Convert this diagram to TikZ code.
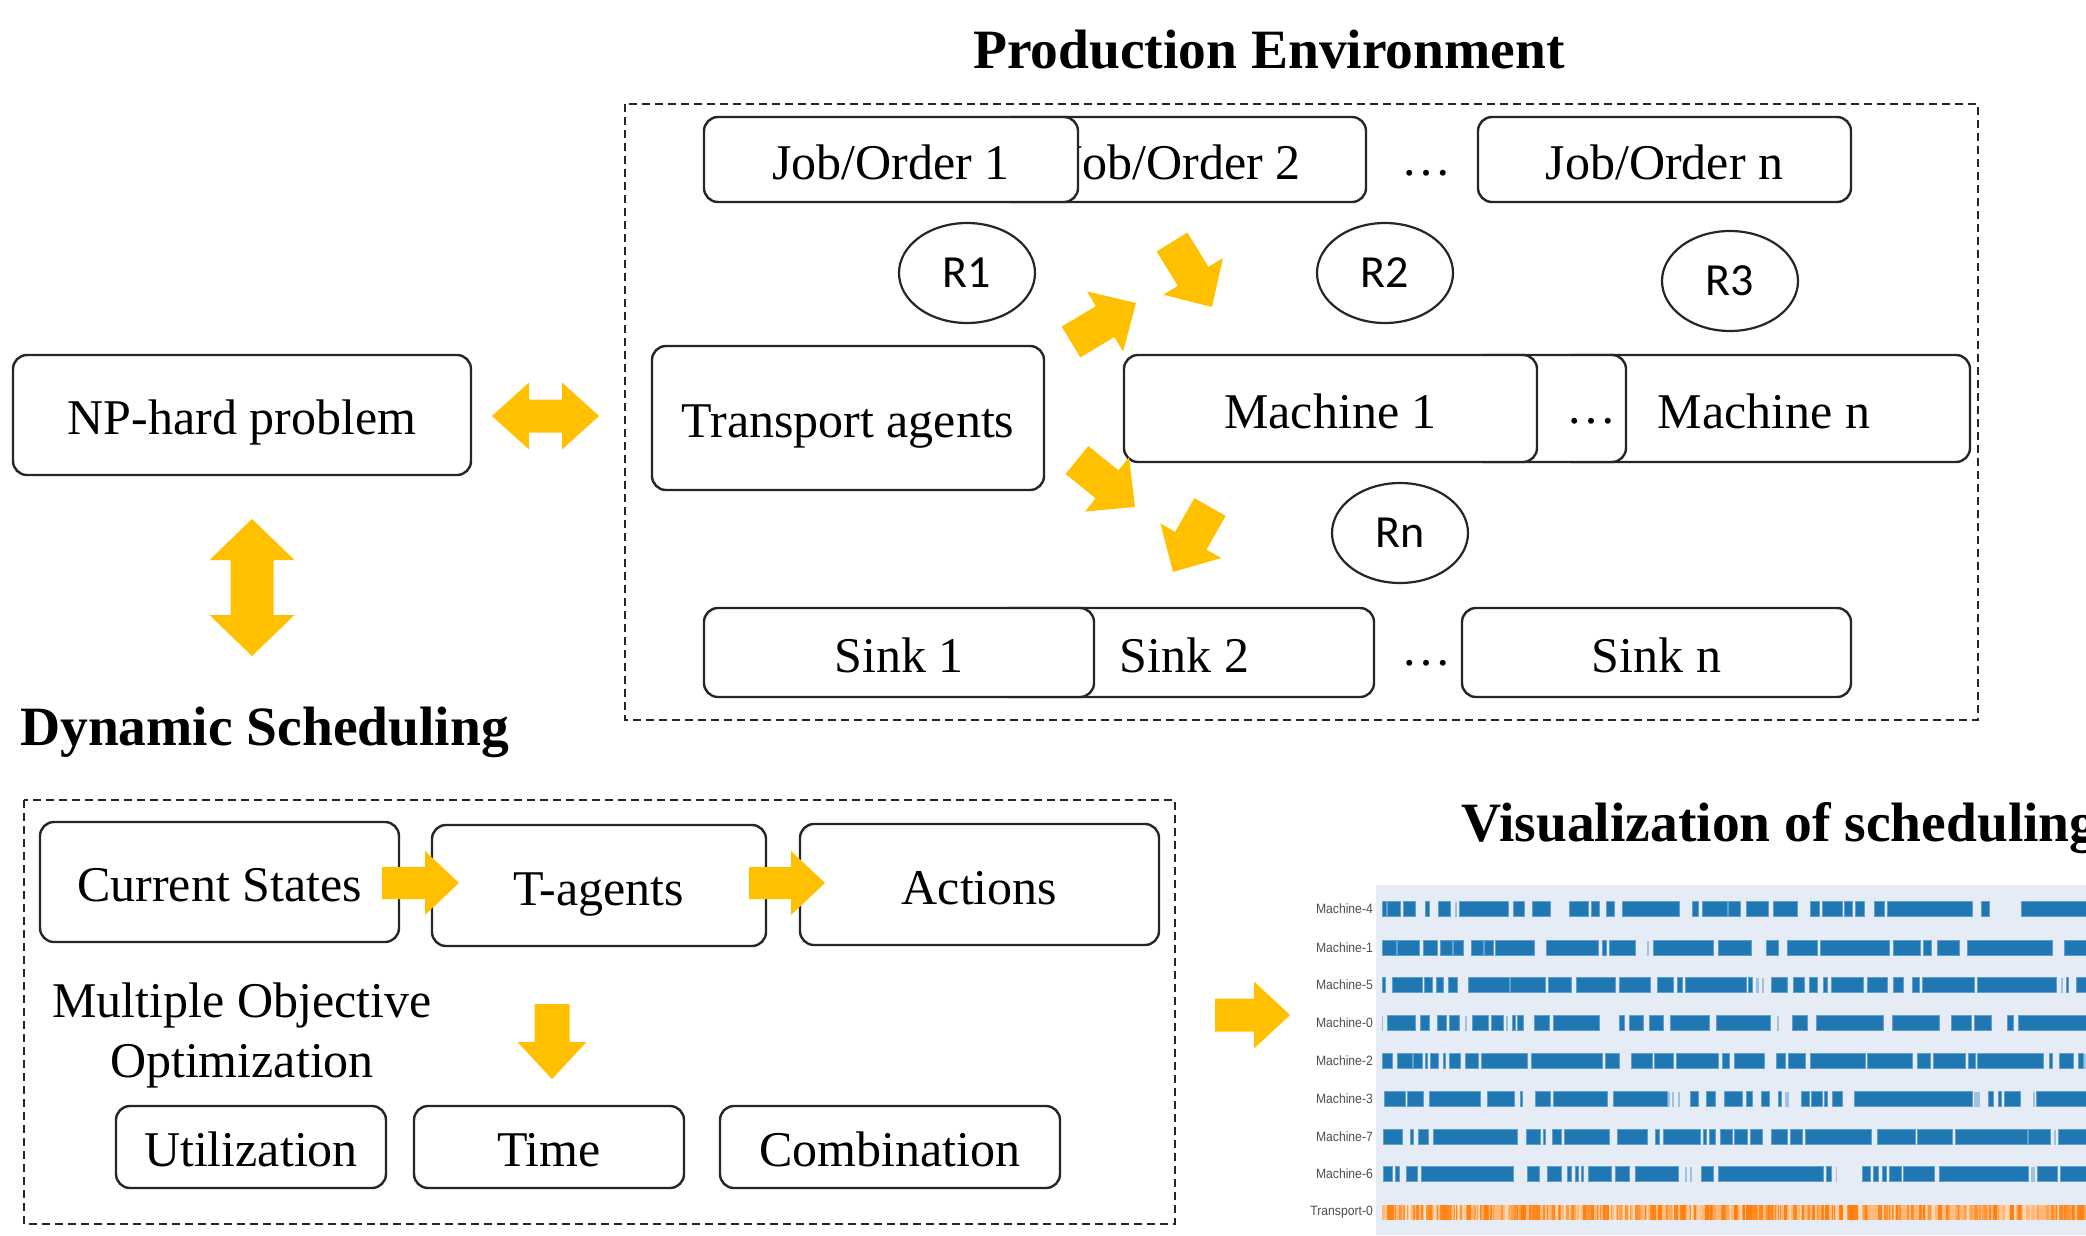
\documentclass[tikz,border=0pt]{standalone}
\usepackage{fontspec}
\setmainfont{Liberation Serif}
\newfontfamily\rfont{Carlito}
\newfontfamily\axisfont[FakeStretch=0.9]{Liberation Sans}
\usetikzlibrary{shapes.geometric,calc}

\definecolor{gold}{HTML}{FFC000}
\definecolor{edge}{HTML}{262626}
\definecolor{plotbg}{HTML}{E5ECF6}
\definecolor{barblue}{HTML}{1F77B4}
\definecolor{barorange}{HTML}{FF7F0E}
\definecolor{axisgray}{HTML}{4D4D4D}

\tikzset{
  box/.style={draw=edge, line width=2.4pt, rounded corners=14pt, fill=white,
    inner sep=0pt, text height=39pt, text depth=0pt, font=\fontsize{50}{60}\selectfont},
  frame/.style={draw=edge, line width=2.4pt, dash pattern=on 8pt off 5pt},
  rnode/.style={draw=edge, line width=2.2pt, ellipse, minimum width=136pt,
    minimum height=100pt, inner sep=0pt, font=\rfont\fontsize{46}{50}\selectfont},
  heading/.style={font=\bfseries\fontsize{55.5}{62}\selectfont, inner sep=0pt},
  plain/.style={font=\fontsize{50}{60}\selectfont, inner sep=0pt},
  axislabel/.style={font=\axisfont\fontsize{13.5}{14}\selectfont, text=axisgray,
    anchor=east, inner sep=0pt},
  bar/.style={fill=barblue, draw=barblue!70!white, line width=0.6pt},
}

% block arrow: tail, tip, shaft half width, head half width, head length
\newcommand\blockarrow[5]{%
  \coordinate (hb) at ($(#2)!#5!(#1)$);
  \fill[gold] ($(#1)!#3!90:(#2)$) -- ($(hb)!#3!-90:(#1)$) -- ($(hb)!#4!-90:(#1)$)
    -- (#2) -- ($(hb)!#4!90:(#1)$) -- ($(hb)!#3!90:(#1)$) -- ($(#1)!#3!-90:(#2)$) -- cycle;
}
% double-headed block arrow: end, end, shaft half width, head half width, head length
\newcommand\dblarrow[5]{%
  \coordinate (ha) at ($(#1)!#5!(#2)$);
  \coordinate (hb) at ($(#2)!#5!(#1)$);
  \fill[gold] (#1) -- ($(ha)!#4!90:(#2)$) -- ($(ha)!#3!90:(#2)$) -- ($(hb)!#3!-90:(#1)$)
    -- ($(hb)!#4!-90:(#1)$) -- (#2) -- ($(hb)!#4!90:(#1)$) -- ($(hb)!#3!90:(#1)$)
    -- ($(ha)!#3!-90:(#2)$) -- ($(ha)!#4!-90:(#2)$) -- cycle;
}
% one row of the Gantt chart: y, solid segments, faint segments
\newcommand\ganttrow[3]{%
  \foreach \a/\b in {#2} \fill[bar] (\a,#1-7.5) rectangle (\b,#1+7.5);
  \foreach \a/\b in {#3} \fill[barblue, opacity=0.35] (\a,#1-7.5) rectangle (\b,#1+7.5);
}

\begin{document}
\begin{tikzpicture}[x=1pt, y=-1pt]
\useasboundingbox (0,0) rectangle (2086,1235);
\clip (0,0) rectangle (2086,1235);

% ---------------- production environment ----------------
\node[heading, anchor=base] (prodtitle) at (1269,68) {Production Environment};
\draw[frame] (625,104) rectangle (1978,720);

\node[box, minimum width=368pt, minimum height=85pt] (job2) at (1182,159.5) {Job/Order 2};
\node[box, minimum width=374pt, minimum height=85pt] (job1) at (891,159.5) {Job/Order 1};
\node[plain] (jdots) at (1426,173) {…};
\node[box, minimum width=373pt, minimum height=85pt] (jobn) at (1664.5,159.5) {Job/Order n};

\node[rnode] (r1) at (967,273) {R1};
\node[rnode] (r2) at (1385,273) {R2};
\node[rnode] (r3) at (1730,281) {R3};
\node[rnode] (rn) at (1400,533) {Rn};

\node[box, minimum width=392pt, minimum height=144pt] (transport) at (848,418) {Transport agents};

\node[box, minimum width=412pt, minimum height=107pt] (machn) at (1764,408.5) {Machine n};
\node[box, minimum width=156pt, minimum height=107pt] (mdotsbox) at (1548,408.5) {};
\node[plain] (mdots) at (1591,421) {…};
\node[box, minimum width=413pt, minimum height=107pt] (mach1) at (1330.5,408.5) {Machine 1};

\node[box, minimum width=379pt, minimum height=89pt] (sink2) at (1184.5,652.5) {Sink 2};
\node[box, minimum width=390pt, minimum height=89pt] (sink1) at (899,652.5) {Sink 1};
\node[plain] (sdots) at (1426,663) {…};
\node[box, minimum width=389pt, minimum height=89pt] (sinkn) at (1656.5,652.5) {Sink n};

% transport flows
\coordinate (ta1) at (1071,342); \coordinate (tb1) at (1136,303);
\coordinate (ta2) at (1172,242); \coordinate (tb2) at (1212,307);
\coordinate (ta3) at (1077,460); \coordinate (tb3) at (1135,507);
\coordinate (ta4) at (1210,507); \coordinate (tb4) at (1173,572);
\blockarrow{ta1}{tb1}{18pt}{35pt}{36pt}
\blockarrow{ta2}{tb2}{18pt}{35pt}{36pt}
\blockarrow{ta3}{tb3}{18pt}{35pt}{36pt}
\blockarrow{ta4}{tb4}{18pt}{35pt}{36pt}

% ---------------- problem ----------------
\node[box, minimum width=458pt, minimum height=120pt] (nphard) at (242,415) {NP-hard problem};
\coordinate (hx1) at (492,416); \coordinate (hx2) at (599,416);
\dblarrow{hx1}{hx2}{16.5pt}{33.5pt}{37pt}
\coordinate (vx1) at (252,519); \coordinate (vx2) at (252,656);
\dblarrow{vx1}{vx2}{21.5pt}{42.5pt}{41pt}

% ---------------- dynamic scheduling ----------------
\node[heading, anchor=base west] (dyntitle) at (20,745) {Dynamic Scheduling};
\draw[frame] (24,800) rectangle (1175,1224);

\node[box, minimum width=359pt, minimum height=120pt] (states) at (219.5,882) {Current States};
\node[box, minimum width=334pt, minimum height=121pt] (tagents) at (599,885.5) {T-agents};
\node[box, minimum width=359pt, minimum height=121pt] (actions) at (979.5,884.5) {Actions};

\coordinate (sa1) at (382,883); \coordinate (sb1) at (459,883);
\coordinate (sa2) at (749,883); \coordinate (sb2) at (825,883);
\blockarrow{sa1}{sb1}{16pt}{32pt}{34pt}
\blockarrow{sa2}{sb2}{16pt}{32pt}{34pt}

\node[plain, align=center] (moo) at (242,1035) {Multiple Objective\\Optimization};
\coordinate (da) at (552,1004); \coordinate (db) at (552,1079);
\blockarrow{da}{db}{17.5pt}{34.5pt}{37pt}

\node[box, minimum width=270pt, minimum height=82pt] (util) at (251,1147) {Utilization};
\node[box, minimum width=270pt, minimum height=82pt] (time) at (549,1147) {Time};
\node[box, minimum width=340pt, minimum height=82pt] (comb) at (890,1147) {Combination};

\coordinate (va) at (1215,1015); \coordinate (vb) at (1290,1015);
\blockarrow{va}{vb}{16.5pt}{33.5pt}{36pt}

% ---------------- visualization ----------------
\node[heading, anchor=base west] (vistitle) at (1461,841) {Visualization of scheduling};
\fill[plotbg] (1376,885) rectangle (2086,1235);

\node[axislabel] (l4) at (1373,909) {Machine-4};
\node[axislabel] (l1) at (1373,948) {Machine-1};
\node[axislabel] (l5) at (1373,985) {Machine-5};
\node[axislabel] (l0) at (1373,1023) {Machine-0};
\node[axislabel] (l2) at (1373,1061) {Machine-2};
\node[axislabel] (l3) at (1373,1099) {Machine-3};
\node[axislabel] (l7) at (1373,1137) {Machine-7};
\node[axislabel] (l6) at (1373,1174) {Machine-6};
\node[axislabel] (lt) at (1373,1212) {Transport-0};

\ganttrow{909}{1382/1386,1387/1400,1403/1415,1425/1429,1438/1450,1459/1508,1513/1524,1532/1550,1569/1588,1591/1599,1606/1614,1622/1679,1692/1698,1702/1727,1728/1740,1746/1768,1773/1797,1810/1819,1822/1842,1844/1852,1855/1864,1874/1884,1887/1972,1981/1989,2021/2090}{1455/1457}
\ganttrow{948}{1382/1396,1397/1419,1423/1437,1440/1452,1453/1463,1471/1483,1484/1493,1495/1534,1546/1598,1602/1606,1609/1635,1653/1713,1718/1751,1766/1778,1787/1817,1820/1889,1893/1920,1923/1931,1937/1959,1967/2052,2064/2090}{1647/1649}
\ganttrow{985}{1382/1385,1392/1422,1424/1432,1436/1443,1448/1457,1468/1509,1510/1545,1548/1571,1576/1615,1619/1650,1657/1673,1677/1682,1685/1746,1748/1752,1771/1787,1793/1804,1809/1817,1823/1827,1831/1863,1867/1887,1893/1903,1912/1919,1922/1974,1977/2056,2066/2068,2076/2090}{1756/1759,1762/1764,2061/2063}
\ganttrow{1023}{1387/1415,1420/1429,1437/1446,1449/1459,1472/1488,1491/1503,1512/1515,1517/1523,1534/1549,1553/1599,1619/1624,1629/1643,1649/1663,1670/1709,1716/1770,1792/1807,1816/1883,1892/1939,1951/1971,1974/1991,2007/2013,2018/2090}{1382/1383,1465/1467,1506/1508,1777/1779}
\ganttrow{1061}{1382/1392,1397/1412,1413/1422,1425/1427,1430/1438,1443/1445,1449/1460,1465/1478,1481/1527,1531/1602,1605/1619,1631/1652,1654/1673,1676/1718,1722/1729,1734/1764,1776/1785,1788/1805,1810/1865,1867/1912,1917/1930,1933/1965,1968/1975,1977/2043,2049/2052,2059/2073,2078/2083}{2084/2086}
\ganttrow{1099}{1384/1405,1407/1423,1429/1480,1487/1514,1520/1522,1535/1550,1553/1607,1613/1667,1690/1698,1706/1715,1724/1742,1746/1752,1761/1769,1778/1781,1801/1809,1811/1822,1824/1827,1832/1842,1854/1972,1988/1993,1998/2001,2004/2020,2036/2090}{1668/1670,1672/1674,1678/1680,1785/1789,1974/1980,2033/2035}
\ganttrow{1137}{1383/1402,1410/1413,1418/1428,1433/1517,1526/1540,1543/1545,1552/1561,1564/1609,1617/1647,1655/1659,1663/1700,1703/1706,1709/1715,1720/1732,1734/1747,1750/1762,1771/1787,1790/1802,1805/1871,1877/1915,1917/1952,1955/2027,2028/2050,2058/2090}{2054/2056}
\ganttrow{1174}{1383/1392,1395/1399,1406/1417,1421/1513,1527/1539,1547/1561,1567/1571,1575/1578,1581/1583,1588/1611,1615/1629,1635/1678,1701/1713,1718/1823,1826/1831,1862/1870,1873/1878,1882/1886,1889/1901,1903/1934,1939/2028,2037/2057,2060/2090}{1685/1687,1690/1692,1836/1837,2031/2035}

% transport row: dense stripes of varying strength
\fill[barorange!55] (1382,1204.5) rectangle (2090,1219.5);
\pgfmathsetseed{42}
\foreach \i in {1,...,260}{
  \pgfmathsetmacro\xa{1382+704*rnd}
  \pgfmathsetmacro\wd{1+4*rnd}
  \pgfmathsetmacro\op{0.25+0.75*rnd}
  \fill[barorange, opacity=\op] (\xa,1204.5) rectangle (\xa+\wd,1219.5);
}
\pgfmathsetseed{7}
\foreach \i in {1,...,90}{
  \pgfmathsetmacro\xa{1382+704*rnd}
  \pgfmathsetmacro\wd{0.8+2*rnd}
  \fill[white, opacity=0.45] (\xa,1204.5) rectangle (\xa+\wd,1219.5);
}
\end{tikzpicture}
\end{document}
